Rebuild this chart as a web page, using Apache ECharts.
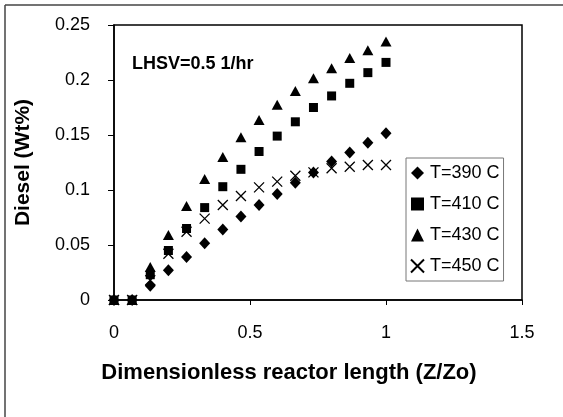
<!DOCTYPE html>
<html><head><meta charset="utf-8">
<script src="https://cdn.jsdelivr.net/npm/echarts@6/dist/echarts.min.js"></script>
<style>html,body{margin:0;padding:0;background:#fff}#c{width:563px;height:417px}</style>
</head><body><div id="c"></div>
<script>
var xValues = [0, 0.0667, 0.1333, 0.2, 0.2667, 0.3333, 0.4, 0.4667, 0.5333, 0.6, 0.6667, 0.7333, 0.8, 0.8667, 0.9333, 1.0];
var t390 = [0, 0, 0.013, 0.027, 0.039, 0.0515, 0.064, 0.0758, 0.0864, 0.0964, 0.1067, 0.1158, 0.1258, 0.134, 0.143, 0.1515];
var t410 = [0, 0, 0.023, 0.045, 0.065, 0.084, 0.103, 0.1188, 0.135, 0.149, 0.162, 0.175, 0.1855, 0.197, 0.2067, 0.216];
var t430 = [0, 0, 0.030, 0.059, 0.0855, 0.110, 0.130, 0.148, 0.1636, 0.1776, 0.190, 0.2015, 0.2106, 0.220, 0.227, 0.235];
var t450 = [0, 0, 0.018, 0.042, 0.062, 0.074, 0.0864, 0.0945, 0.1024, 0.1076, 0.113, 0.116, 0.1197, 0.1212, 0.1227, 0.1227];
var seriesNames = ['T=390 C', 'T=410 C', 'T=430 C', 'T=450 C'];
var xTicks = [0, 0.5, 1, 1.5];
var yTicks = [0, 0.05, 0.1, 0.15, 0.2, 0.25];

function pairs(ys){ return xValues.map(function(x,i){ return [x, ys[i]]; }); }
var FONT = 'Liberation Sans, Arial, sans-serif';
var chart = echarts.init(document.getElementById('c'), null, {renderer:'canvas'});
var crossPath = 'path://M0,0L10,10M10,0L0,10';
chart.setOption({
  animation: false,
  backgroundColor: '#fff',
  grid: {left: 114, top: 25, right: 41, bottom: 117, show: true, borderColor: '#000', borderWidth: 1.5, backgroundColor: 'transparent'},
  xAxis: {
    type: 'value', min: 0, max: 1.5, interval: 0.5,
    axisLine: {show: true, onZero: false, lineStyle: {color: '#000', width: 1.5}},
    axisTick: {show: true, length: 5, inside: false, lineStyle: {color: '#000'}},
    axisLabel: {color: '#000', fontFamily: FONT, fontSize: 18, margin: 24,
      formatter: function(v){ return xTicks.indexOf(+v.toFixed(2)) >= 0 ? String(+v.toFixed(2)) : ''; }},
    splitLine: {show: false},
    name: 'Dimensionless reactor length (Z/Zo)', nameLocation: 'middle', nameGap: 62,
    nameTextStyle: {color: '#000', fontFamily: FONT, fontSize: 22, fontWeight: 'bold', padding: [0, 58, 0, 0]}
  },
  yAxis: {
    type: 'value', min: 0, max: 0.25, interval: 0.05,
    axisLine: {show: true, onZero: false, lineStyle: {color: '#000', width: 1.5}},
    axisTick: {show: true, length: 6, inside: false, lineStyle: {color: '#000'}},
    axisLabel: {color: '#000', fontFamily: FONT, fontSize: 18, margin: 24,
      formatter: function(v){ return yTicks.indexOf(+v.toFixed(2)) >= 0 ? String(+v.toFixed(2)) : ''; }},
    splitLine: {show: false},
    name: 'Diesel (Wt%)', nameLocation: 'middle', nameGap: 80,
    nameTextStyle: {color: '#000', fontFamily: FONT, fontSize: 21, fontWeight: 'bold'}
  },
  legend: {
    orient: 'vertical', left: 406, top: 158, width: 102,
    itemGap: 13, itemWidth: 13, itemHeight: 13,
    backgroundColor: '#fff', borderColor: '#777', borderWidth: 1,
    padding: [6, 4, 6, 4],
    textStyle: {color: '#000', fontFamily: FONT, fontSize: 18, padding: [0,0,0,1]},
    data: seriesNames
  },
  graphic: [
    {type: 'line', shape: {x1: 5, y1: 5, x2: 563, y2: 5}, style: {stroke: '#444', lineWidth: 1.5}},
    {type: 'line', shape: {x1: 5, y1: 5, x2: 5, y2: 417}, style: {stroke: '#444', lineWidth: 1.5}},
    {type: 'text', left: 132, top: 55, style: {text: 'LHSV=0.5 1/hr', fill: '#000', font: 'bold 18px ' + FONT}}
  ],
  series: [
    {name: seriesNames[0], type: 'scatter', data: pairs(t390), symbol: 'diamond', symbolSize: [11, 12], itemStyle: {color: '#000', opacity: 1}},
    {name: seriesNames[1], type: 'scatter', data: pairs(t410), symbol: 'rect', symbolSize: 9, itemStyle: {color: '#000', opacity: 1}},
    {name: seriesNames[2], type: 'scatter', data: pairs(t430), symbol: 'triangle', symbolSize: [11, 10], itemStyle: {color: '#000', opacity: 1}},
    {name: seriesNames[3], type: 'scatter', data: pairs(t450), symbol: crossPath, symbolSize: 10, itemStyle: {color: 'transparent', borderColor: '#000', borderWidth: 1.3, opacity: 1}}
  ]
});
</script></body></html>
